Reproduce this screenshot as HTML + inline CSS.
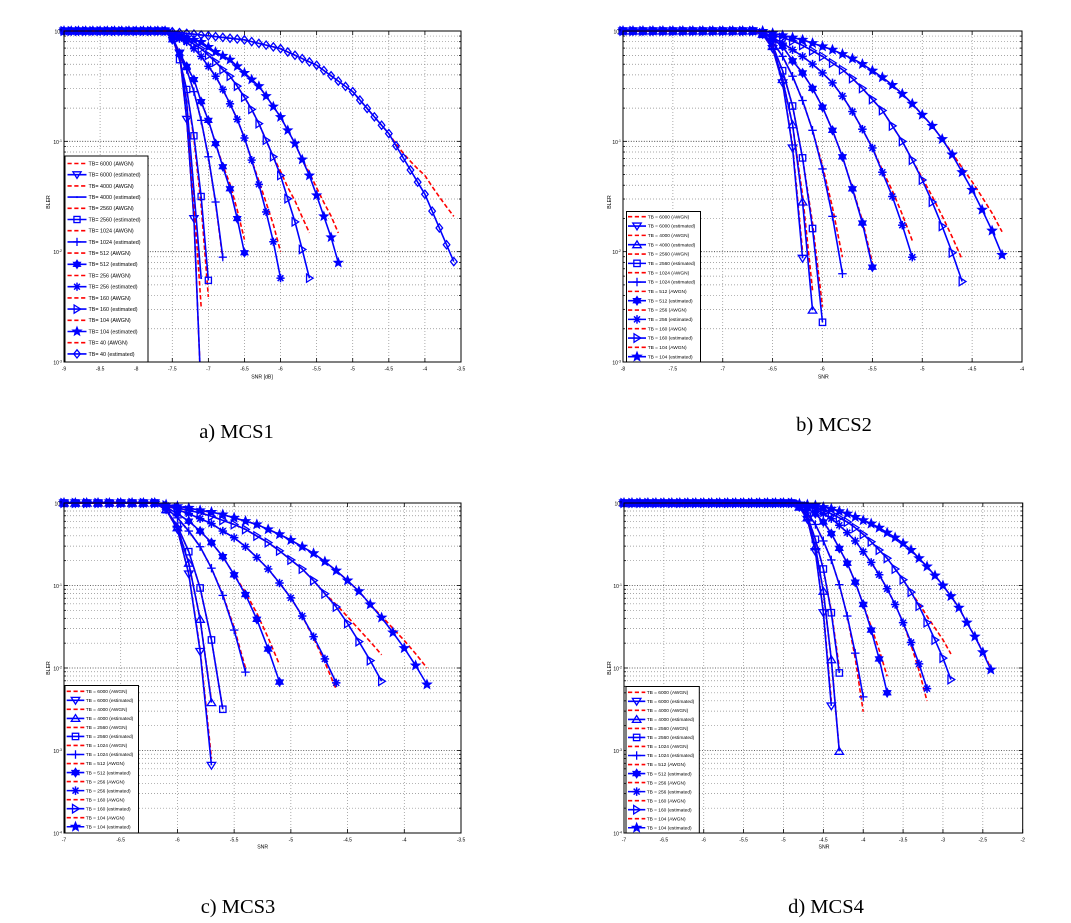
<!DOCTYPE html>
<html><head><meta charset="utf-8">
<style>html,body{margin:0;padding:0;background:#fff;}svg{display:block;}</style>
</head><body>
<svg id="s" width="1071" height="923" viewBox="0 0 1071 923" xmlns="http://www.w3.org/2000/svg" font-family="'Liberation Sans', Arial, sans-serif">
<rect width="1071" height="923" fill="#fff"/>
<defs>
<clipPath id="c1"><rect x="56" y="23" width="413" height="339"/></clipPath>
<clipPath id="c2"><rect x="615" y="23" width="415" height="339"/></clipPath>
<clipPath id="c3"><rect x="56" y="495" width="413" height="338"/></clipPath>
<clipPath id="c4"><rect x="616" y="495" width="415" height="338"/></clipPath>
</defs>
<g id="p1"></g><g id="p2"></g><g id="p3"></g><g id="p4"></g>
<g id="txt" fill="#000">
<g font-size="5" text-anchor="middle">
<text x="64" y="370.5">-9</text><text x="100.1" y="370.5">-8.5</text><text x="136.2" y="370.5">-8</text><text x="172.3" y="370.5">-7.5</text><text x="208.4" y="370.5">-7</text><text x="244.5" y="370.5">-6.5</text><text x="280.5" y="370.5">-6</text><text x="316.6" y="370.5">-5.5</text><text x="352.7" y="370.5">-5</text><text x="388.8" y="370.5">-4.5</text><text x="424.9" y="370.5">-4</text><text x="461" y="370.5">-3.5</text>
<text x="623" y="370.5">-8</text><text x="672.9" y="370.5">-7.5</text><text x="722.8" y="370.5">-7</text><text x="772.6" y="370.5">-6.5</text><text x="822.5" y="370.5">-6</text><text x="872.4" y="370.5">-5.5</text><text x="922.3" y="370.5">-5</text><text x="972.1" y="370.5">-4.5</text><text x="1022" y="370.5">-4</text>
<text x="64" y="841.5">-7</text><text x="120.7" y="841.5">-6.5</text><text x="177.4" y="841.5">-6</text><text x="234.1" y="841.5">-5.5</text><text x="290.9" y="841.5">-5</text><text x="347.6" y="841.5">-4.5</text><text x="404.3" y="841.5">-4</text><text x="461" y="841.5">-3.5</text>
<text x="624" y="841.5">-7</text><text x="663.9" y="841.5">-6.5</text><text x="703.7" y="841.5">-6</text><text x="743.6" y="841.5">-5.5</text><text x="783.5" y="841.5">-5</text><text x="823.4" y="841.5">-4.5</text><text x="863.2" y="841.5">-4</text><text x="903.1" y="841.5">-3.5</text><text x="943" y="841.5">-3</text><text x="982.8" y="841.5">-2.5</text><text x="1022.7" y="841.5">-2</text>
</g>
<g font-size="5" text-anchor="end">
<text x="62" y="33.5">10<tspan dy="-2" font-size="3.5">0</tspan></text>
<text x="62" y="143.8">10<tspan dy="-2" font-size="3.5">-1</tspan></text>
<text x="62" y="254.2">10<tspan dy="-2" font-size="3.5">-2</tspan></text>
<text x="62" y="364.5">10<tspan dy="-2" font-size="3.5">-3</tspan></text>
<text x="621" y="33.5">10<tspan dy="-2" font-size="3.5">0</tspan></text>
<text x="621" y="143.8">10<tspan dy="-2" font-size="3.5">-1</tspan></text>
<text x="621" y="254.2">10<tspan dy="-2" font-size="3.5">-2</tspan></text>
<text x="621" y="364.5">10<tspan dy="-2" font-size="3.5">-3</tspan></text>
<text x="62" y="505.5">10<tspan dy="-2" font-size="3.5">0</tspan></text>
<text x="62" y="588">10<tspan dy="-2" font-size="3.5">-1</tspan></text>
<text x="62" y="670.5">10<tspan dy="-2" font-size="3.5">-2</tspan></text>
<text x="62" y="753">10<tspan dy="-2" font-size="3.5">-3</tspan></text>
<text x="62" y="835.5">10<tspan dy="-2" font-size="3.5">-4</tspan></text>
<text x="622" y="505.5">10<tspan dy="-2" font-size="3.5">0</tspan></text>
<text x="622" y="588">10<tspan dy="-2" font-size="3.5">-1</tspan></text>
<text x="622" y="670.5">10<tspan dy="-2" font-size="3.5">-2</tspan></text>
<text x="622" y="753">10<tspan dy="-2" font-size="3.5">-3</tspan></text>
<text x="622" y="835.5">10<tspan dy="-2" font-size="3.5">-4</tspan></text>
</g>
<g font-size="5.2" text-anchor="middle">
<text x="262" y="378.5">SNR [dB]</text>
<text x="823.3" y="378.5">SNR</text>
<text x="262.7" y="848.5">SNR</text>
<text x="824" y="848.5">SNR</text>
<text transform="translate(50,202) rotate(-90)">BLER</text>
<text transform="translate(611,202) rotate(-90)">BLER</text>
<text transform="translate(50,668) rotate(-90)">BLER</text>
<text transform="translate(611,668) rotate(-90)">BLER</text>
</g>
<g font-size="5.4">
<text x="88.5" y="165.4">TB= 6000 (AWGN)</text>
<text x="88.5" y="176.6">TB= 6000 (estimated)</text>
<text x="88.5" y="187.8">TB= 4000 (AWGN)</text>
<text x="88.5" y="199.0">TB= 4000 (estimated)</text>
<text x="88.5" y="210.2">TB= 2560 (AWGN)</text>
<text x="88.5" y="221.4">TB= 2560 (estimated)</text>
<text x="88.5" y="232.6">TB= 1024 (AWGN)</text>
<text x="88.5" y="243.8">TB= 1024 (estimated)</text>
<text x="88.5" y="255.0">TB= 512 (AWGN)</text>
<text x="88.5" y="266.2">TB= 512 (estimated)</text>
<text x="88.5" y="277.4">TB= 256 (AWGN)</text>
<text x="88.5" y="288.6">TB= 256 (estimated)</text>
<text x="88.5" y="299.8">TB= 160 (AWGN)</text>
<text x="88.5" y="311.0">TB= 160 (estimated)</text>
<text x="88.5" y="322.2">TB= 104 (AWGN)</text>
<text x="88.5" y="333.4">TB= 104 (estimated)</text>
<text x="88.5" y="344.6">TB= 40 (AWGN)</text>
<text x="88.5" y="355.8">TB= 40 (estimated)</text>
</g>
<g font-size="4.8">
<text x="647.7" y="218.4">TB = 6000 (AWGN)</text>
<text x="647.7" y="227.7">TB = 6000 (estimated)</text>
<text x="647.7" y="237.1">TB = 4000 (AWGN)</text>
<text x="647.7" y="246.4">TB = 4000 (estimated)</text>
<text x="647.7" y="255.7">TB = 2560 (AWGN)</text>
<text x="647.7" y="265.1">TB = 2560 (estimated)</text>
<text x="647.7" y="274.4">TB = 1024 (AWGN)</text>
<text x="647.7" y="283.7">TB = 1024 (estimated)</text>
<text x="647.7" y="293.1">TB = 512 (AWGN)</text>
<text x="647.7" y="302.4">TB = 512 (estimated)</text>
<text x="647.7" y="311.7">TB = 256 (AWGN)</text>
<text x="647.7" y="321.1">TB = 256 (estimated)</text>
<text x="647.7" y="330.4">TB = 160 (AWGN)</text>
<text x="647.7" y="339.7">TB = 160 (estimated)</text>
<text x="647.7" y="349.1">TB = 104 (AWGN)</text>
<text x="647.7" y="358.4">TB = 104 (estimated)</text>
</g>
<g font-size="4.8">
<text x="85.7" y="693.0">TB = 6000 (AWGN)</text>
<text x="85.7" y="702.0">TB = 6000 (estimated)</text>
<text x="85.7" y="711.1">TB = 4000 (AWGN)</text>
<text x="85.7" y="720.1">TB = 4000 (estimated)</text>
<text x="85.7" y="729.1">TB = 2560 (AWGN)</text>
<text x="85.7" y="738.2">TB = 2560 (estimated)</text>
<text x="85.7" y="747.2">TB = 1024 (AWGN)</text>
<text x="85.7" y="756.2">TB = 1024 (estimated)</text>
<text x="85.7" y="765.2">TB = 512 (AWGN)</text>
<text x="85.7" y="774.3">TB = 512 (estimated)</text>
<text x="85.7" y="783.3">TB = 256 (AWGN)</text>
<text x="85.7" y="792.3">TB = 256 (estimated)</text>
<text x="85.7" y="801.4">TB = 160 (AWGN)</text>
<text x="85.7" y="810.4">TB = 160 (estimated)</text>
<text x="85.7" y="819.4">TB = 104 (AWGN)</text>
<text x="85.7" y="828.5">TB = 104 (estimated)</text>
</g>
<g font-size="4.8">
<text x="646.7" y="694.0">TB = 6000 (AWGN)</text>
<text x="646.7" y="703.0">TB = 6000 (estimated)</text>
<text x="646.7" y="712.1">TB = 4000 (AWGN)</text>
<text x="646.7" y="721.1">TB = 4000 (estimated)</text>
<text x="646.7" y="730.1">TB = 2560 (AWGN)</text>
<text x="646.7" y="739.2">TB = 2560 (estimated)</text>
<text x="646.7" y="748.2">TB = 1024 (AWGN)</text>
<text x="646.7" y="757.2">TB = 1024 (estimated)</text>
<text x="646.7" y="766.2">TB = 512 (AWGN)</text>
<text x="646.7" y="775.3">TB = 512 (estimated)</text>
<text x="646.7" y="784.3">TB = 256 (AWGN)</text>
<text x="646.7" y="793.3">TB = 256 (estimated)</text>
<text x="646.7" y="802.4">TB = 160 (AWGN)</text>
<text x="646.7" y="811.4">TB = 160 (estimated)</text>
<text x="646.7" y="820.4">TB = 104 (AWGN)</text>
<text x="646.7" y="829.5">TB = 104 (estimated)</text>
</g>
<g font-family="'Liberation Serif', 'Times New Roman', serif" font-size="20.5" text-anchor="middle">
<text x="236.5" y="438">a) MCS1</text>
<text x="834" y="431">b) MCS2</text>
<text x="238" y="913">c) MCS3</text>
<text x="826" y="913">d) MCS4</text>
</g>
</g>
</svg>
<script>
const NS='http://www.w3.org/2000/svg';
function el(t,a,p){const e=document.createElementNS(NS,t);for(const k in a)e.setAttribute(k,a[k]);if(p)p.appendChild(e);return e;}
function ln(p,x1,y1,x2,y2,a){a=Object.assign({},a||{});a.x1=x1;a.y1=y1;a.x2=x2;a.y2=y2;return el('line',a,p);}
function interp(A,x){
  if(x<=A[0]+1e-9) return 0;
  for(let i=0;i<A.length-2;i+=2){
    if(x<=A[i+2]+1e-9){const t=(x-A[i])/(A[i+2]-A[i]);return A[i+1]+t*(A[i+3]-A[i+1]);}
  }
  return A[A.length-1];
}
function starPts(cx,cy,ro,ri,n,rot){const p=[];for(let k=0;k<2*n;k++){const r=k%2?ri:ro;const a=rot+k*Math.PI/n;p.push((cx+r*Math.sin(a)).toFixed(2)+','+(cy-r*Math.cos(a)).toFixed(2));}return p.join(' ');}
function mk(g,t,cx,cy,s){
  const h=s/2,c='#00f';
  const A={stroke:c,'stroke-width':1.3,fill:'none'};
  const F={stroke:c,'stroke-width':0.9,fill:c};
  if(t==='v') el('polygon',Object.assign({points:`${cx-h},${cy-h*0.7} ${cx+h},${cy-h*0.7} ${cx},${cy+h*0.9}`},A),g);
  else if(t==='^') el('polygon',Object.assign({points:`${cx-h},${cy+h*0.7} ${cx+h},${cy+h*0.7} ${cx},${cy-h*0.9}`},A),g);
  else if(t==='>') el('polygon',Object.assign({points:`${cx-h*0.7},${cy-h} ${cx-h*0.7},${cy+h} ${cx+h*0.9},${cy}`},A),g);
  else if(t==='s') el('rect',Object.assign({x:cx-h*0.75,y:cy-h*0.75,width:h*1.5,height:h*1.5},A),g);
  else if(t==='d') el('polygon',Object.assign({points:`${cx},${cy-h} ${cx+h*0.8},${cy} ${cx},${cy+h} ${cx-h*0.8},${cy}`},A),g);
  else if(t==='+'){ln(g,cx-h,cy,cx+h,cy,A);ln(g,cx,cy-h,cx,cy+h,A);}
  else if(t==='.'){el('circle',{cx:cx,cy:cy,r:1,fill:c},g);}
  else if(t==='p') el('polygon',Object.assign({points:starPts(cx,cy,h*1.15,h*0.5,5,0)},F),g);
  else if(t==='h') el('polygon',Object.assign({points:starPts(cx,cy,h*1.05,h*0.62,6,0)},F),g);
  else if(t==='*'){const a={stroke:c,'stroke-width':1.5};
    for(let k=0;k<4;k++){const an=k*Math.PI/4;ln(g,cx-h*Math.cos(an),cy-h*Math.sin(an),cx+h*Math.cos(an),cy+h*Math.sin(an),a);}}
}
const plots=[
{id:'p1',clip:'c1',L:64,R:461,T:31,B:362,x0:-9,x1:-3.5,dec:3,ms:8.2,
 leg:{bx:65,by:156,bw:83,bh:206,y0:163.5,dy:11.2,lx1:67.5,lx2:86.5},
 S:[
 ['v',-7.1,[-7.6,0,-7.5,-0.05,-7.4,-0.2,-7.3,-0.8,-7.2,-1.7,-7.1,-3.3],-3.3,0.2],
 ['.',-7.1,[-7.6,0,-7.5,-0.05,-7.4,-0.22,-7.3,-0.65,-7.2,-1.45,-7.1,-2.24],-2.5,0.2],
 ['s',-7.0,[-7.6,0,-7.5,-0.05,-7.4,-0.26,-7.3,-0.53,-7.2,-0.95,-7.1,-1.5,-7.0,-2.26],-2.41,0.3],
 ['+',-6.8,[-7.6,0,-7.5,-0.06,-7.4,-0.22,-7.3,-0.35,-7.2,-0.55,-7.1,-0.81,-7.0,-1.14,-6.9,-1.55,-6.8,-2.05],-2.07,0.3],
 ['h',-6.5,[-7.6,0,-7.5,-0.08,-7.4,-0.2,-7.3,-0.32,-7.2,-0.44,-7.1,-0.64,-7.0,-0.81,-6.9,-1.02,-6.8,-1.23,-6.7,-1.43,-6.6,-1.7,-6.5,-2.01],-1.89,0.4],
 ['*',-6.0,[-7.6,0,-7.5,-0.04,-7.4,-0.07,-7.3,-0.1,-7.2,-0.16,-7.1,-0.23,-7.0,-0.32,-6.9,-0.41,-6.8,-0.53,-6.7,-0.66,-6.6,-0.8,-6.5,-0.97,-6.4,-1.17,-6.3,-1.39,-6.2,-1.64,-6.1,-1.91,-6.0,-2.24],-2.0,0.4],
 ['>',-5.6,[-7.6,0,-7.5,-0.03,-7.3,-0.08,-7.1,-0.16,-6.9,-0.28,-6.8,-0.35,-6.7,-0.41,-6.6,-0.5,-6.5,-0.6,-6.4,-0.71,-6.3,-0.84,-6.2,-0.99,-6.1,-1.14,-6.0,-1.31,-5.9,-1.52,-5.8,-1.73,-5.7,-1.98,-5.6,-2.24],-1.83,0.5],
 ['p',-5.2,[-7.6,0,-7.5,-0.03,-7.3,-0.06,-7.1,-0.1,-6.9,-0.19,-6.7,-0.26,-6.5,-0.38,-6.3,-0.5,-6.2,-0.59,-6.0,-0.78,-5.8,-1.02,-5.6,-1.31,-5.5,-1.49,-5.4,-1.68,-5.3,-1.87,-5.2,-2.1],-1.83,0.5],
 ['d',-3.6,[-7.6,0,-7.1,-0.036,-6.5,-0.08,-6.0,-0.16,-5.5,-0.31,-5.0,-0.55,-4.5,-0.93,-4.0,-1.48,-3.6,-2.09],-1.68,0.9]
 ]},
{id:'p2',clip:'c2',L:623,R:1022,T:31,B:362,x0:-8,x1:-4,dec:3,ms:8.5,
 leg:{bx:626.5,by:211.5,bw:74,bh:150.5,y0:216.7,dy:9.333,lx1:628,lx2:646},
 S:[
 ['v',-6.2,[-6.7,0,-6.6,-0.03,-6.5,-0.16,-6.4,-0.47,-6.3,-1.06,-6.2,-2.06],-2.0,0.2],
 ['^',-6.1,[-6.7,0,-6.6,-0.03,-6.5,-0.14,-6.4,-0.44,-6.3,-0.85,-6.2,-1.55,-6.1,-2.53],-2.35,0.2],
 ['s',-6.0,[-6.7,0,-6.6,-0.03,-6.5,-0.13,-6.4,-0.36,-6.3,-0.68,-6.2,-1.15,-6.1,-1.79,-6.0,-2.64],-2.5,0.2],
 ['+',-5.8,[-6.7,0,-6.6,-0.03,-6.5,-0.1,-6.4,-0.23,-6.3,-0.41,-6.2,-0.63,-6.1,-0.9,-6.0,-1.25,-5.9,-1.68,-5.8,-2.2],-2.05,0.3],
 ['h',-5.5,[-6.7,0,-6.6,-0.02,-6.5,-0.07,-6.4,-0.14,-6.3,-0.27,-6.2,-0.38,-6.1,-0.52,-6.0,-0.69,-5.9,-0.9,-5.8,-1.14,-5.7,-1.43,-5.6,-1.74,-5.5,-2.14],-2.1,0.3],
 ['*',-5.1,[-6.7,0,-6.6,-0.02,-6.5,-0.06,-6.4,-0.11,-6.3,-0.17,-6.2,-0.23,-6.1,-0.3,-6.0,-0.38,-5.9,-0.47,-5.8,-0.59,-5.7,-0.73,-5.6,-0.89,-5.5,-1.06,-5.4,-1.28,-5.3,-1.5,-5.2,-1.76,-5.1,-2.05],-1.9,0.4],
 ['>',-4.6,[-6.7,0,-6.6,-0.02,-6.5,-0.04,-6.4,-0.06,-6.3,-0.09,-6.2,-0.13,-6.1,-0.18,-6.0,-0.23,-5.9,-0.29,-5.8,-0.35,-5.7,-0.43,-5.6,-0.52,-5.5,-0.62,-5.4,-0.72,-5.3,-0.86,-5.2,-1.0,-5.1,-1.17,-5.0,-1.35,-4.9,-1.55,-4.8,-1.77,-4.7,-2.01,-4.6,-2.27],-2.07,0.5],
 ['p',-4.2,[-6.6,0,-6.4,-0.04,-6.3,-0.06,-6.2,-0.08,-6.1,-0.11,-6.0,-0.14,-5.9,-0.17,-5.8,-0.21,-5.7,-0.25,-5.6,-0.3,-5.5,-0.36,-5.4,-0.42,-5.3,-0.49,-5.2,-0.57,-5.1,-0.66,-5.0,-0.76,-4.9,-0.86,-4.8,-0.98,-4.7,-1.12,-4.6,-1.28,-4.5,-1.44,-4.4,-1.62,-4.3,-1.81,-4.2,-2.03],-1.82,0.6]
 ]},
{id:'p3',clip:'c3',L:64,R:461,T:503,B:833,x0:-7,x1:-3.5,dec:4,ms:8.5,
 leg:{bx:65,by:685.5,bw:73.5,bh:147.5,y0:691.3,dy:9.03,lx1:66.7,lx2:84.3},
 S:[
 ['v',-5.7,[-6.2,0,-6.1,-0.08,-6.0,-0.32,-5.9,-0.86,-5.8,-1.8,-5.7,-3.18],-3.1,0.2],
 ['^',-5.7,[-6.2,0,-6.1,-0.08,-6.0,-0.3,-5.9,-0.73,-5.8,-1.41,-5.7,-2.42],-2.4,0.2],
 ['s',-5.6,[-6.2,0,-6.1,-0.08,-6.0,-0.28,-5.9,-0.59,-5.8,-1.03,-5.7,-1.66,-5.6,-2.5],-2.5,0.2],
 ['+',-5.4,[-6.2,0,-6.1,-0.06,-6.0,-0.18,-5.9,-0.34,-5.8,-0.53,-5.7,-0.79,-5.6,-1.12,-5.5,-1.54,-5.4,-2.05],-2.0,0.3],
 ['h',-5.1,[-6.2,0,-6.1,-0.05,-6.0,-0.13,-5.9,-0.22,-5.8,-0.34,-5.7,-0.48,-5.6,-0.65,-5.5,-0.87,-5.4,-1.11,-5.3,-1.41,-5.2,-1.77,-5.1,-2.17],-1.96,0.4],
 ['*',-4.6,[-6.2,0,-6.1,-0.03,-6.0,-0.08,-5.9,-0.13,-5.8,-0.19,-5.7,-0.25,-5.6,-0.34,-5.5,-0.42,-5.4,-0.53,-5.3,-0.66,-5.2,-0.8,-5.1,-0.97,-5.0,-1.15,-4.9,-1.37,-4.8,-1.62,-4.7,-1.89,-4.6,-2.18],-2.26,0.3],
 ['>',-4.2,[-6.2,0,-6.1,-0.03,-6.0,-0.06,-5.9,-0.09,-5.8,-0.12,-5.7,-0.16,-5.6,-0.21,-5.5,-0.26,-5.4,-0.32,-5.3,-0.4,-5.2,-0.48,-5.1,-0.58,-5.0,-0.69,-4.9,-0.8,-4.8,-0.94,-4.7,-1.1,-4.6,-1.26,-4.5,-1.46,-4.4,-1.68,-4.3,-1.91,-4.2,-2.16],-1.84,0.5],
 ['p',-3.8,[-6.2,0,-6.0,-0.04,-5.9,-0.06,-5.8,-0.09,-5.7,-0.11,-5.6,-0.14,-5.5,-0.18,-5.4,-0.22,-5.3,-0.26,-5.2,-0.32,-5.1,-0.38,-5.0,-0.45,-4.9,-0.53,-4.8,-0.61,-4.7,-0.71,-4.6,-0.82,-4.5,-0.94,-4.4,-1.07,-4.3,-1.23,-4.2,-1.39,-4.1,-1.57,-4.0,-1.76,-3.9,-1.97,-3.8,-2.2],-2.0,0.5]
 ]},
{id:'p4',clip:'c4',L:624,R:1022.7,T:503,B:833,x0:-7,x1:-2,dec:4,ms:8.5,
 leg:{bx:626,by:686.5,bw:73.3,bh:146.5,y0:692.3,dy:9.03,lx1:628,lx2:645.3},
 S:[
 ['v',-4.4,[-4.9,0,-4.8,-0.05,-4.7,-0.2,-4.6,-0.59,-4.5,-1.33,-4.4,-2.46],-2.4,0.2],
 ['^',-4.3,[-4.9,0,-4.8,-0.05,-4.7,-0.18,-4.6,-0.53,-4.5,-1.07,-4.4,-1.9,-4.3,-3.01],-3.0,0.2],
 ['s',-4.3,[-4.9,0,-4.8,-0.04,-4.7,-0.16,-4.6,-0.44,-4.5,-0.8,-4.4,-1.33,-4.3,-2.06],-2.0,0.2],
 ['+',-4.0,[-4.9,0,-4.8,-0.04,-4.7,-0.12,-4.6,-0.26,-4.5,-0.46,-4.4,-0.69,-4.3,-0.99,-4.2,-1.37,-4.1,-1.82,-4.0,-2.35],-2.53,0.2],
 ['h',-3.7,[-4.9,0,-4.8,-0.03,-4.7,-0.07,-4.6,-0.13,-4.5,-0.23,-4.4,-0.37,-4.3,-0.55,-4.2,-0.73,-4.1,-0.96,-4.0,-1.23,-3.9,-1.54,-3.8,-1.89,-3.7,-2.3],-2.1,0.3],
 ['*',-3.2,[-4.9,0,-4.8,-0.02,-4.7,-0.04,-4.6,-0.07,-4.5,-0.13,-4.4,-0.19,-4.3,-0.27,-4.2,-0.36,-4.1,-0.46,-4.0,-0.59,-3.9,-0.72,-3.8,-0.87,-3.7,-1.04,-3.6,-1.23,-3.5,-1.45,-3.4,-1.69,-3.3,-1.95,-3.2,-2.25],-2.4,0.3],
 ['>',-2.9,[-4.9,0,-4.8,-0.02,-4.7,-0.04,-4.6,-0.06,-4.5,-0.09,-4.4,-0.13,-4.3,-0.18,-4.2,-0.23,-4.1,-0.3,-4.0,-0.38,-3.9,-0.47,-3.8,-0.57,-3.7,-0.67,-3.6,-0.8,-3.5,-0.93,-3.4,-1.08,-3.3,-1.25,-3.2,-1.45,-3.1,-1.66,-3.0,-1.88,-2.9,-2.14],-1.83,0.5],
 ['p',-2.4,[-4.9,0,-4.7,-0.02,-4.6,-0.03,-4.5,-0.05,-4.4,-0.07,-4.3,-0.1,-4.2,-0.13,-4.1,-0.17,-4.0,-0.21,-3.9,-0.25,-3.8,-0.3,-3.7,-0.36,-3.6,-0.42,-3.5,-0.49,-3.4,-0.57,-3.3,-0.67,-3.2,-0.77,-3.1,-0.88,-3.0,-1.0,-2.9,-1.13,-2.8,-1.27,-2.7,-1.45,-2.6,-1.62,-2.5,-1.81,-2.4,-2.02],-2.0,0.3]
 ]}
];
function draw(P){
  const g=document.getElementById(P.id);
  const W=P.R-P.L,H=P.B-P.T;
  const X=x=>P.L+(x-P.x0)/(P.x1-P.x0)*W;
  const Y=l=>P.T-l/P.dec*H;
  const gm=el('g',{stroke:'#8a8a8a','stroke-width':0.7,'stroke-dasharray':'1 2',fill:'none'},g);
  const gM=el('g',{stroke:'#333','stroke-width':0.8,'stroke-dasharray':'1 1.6',fill:'none'},g);
  const nx=Math.round((P.x1-P.x0)/0.5);
  for(let i=1;i<nx;i++){const x=X(P.x0+i*0.5);ln(gm,x,P.T,x,P.B);}
  for(let d=1;d<=P.dec;d++){for(let m=1;m<=9;m++){
    const l=-d+Math.log10(m);
    if(d===P.dec&&m===1)continue;
    ln(m===1?gM:gm,P.L,Y(l),P.R,Y(l));
  }}
  const tk=el('g',{stroke:'#000','stroke-width':0.8},g);
  for(let i=0;i<=nx;i++){const x=X(P.x0+i*0.5);ln(tk,x,P.B,x,P.B-4);ln(tk,x,P.T,x,P.T+4);}
  for(let d=0;d<=P.dec;d++){const y=Y(-d);ln(tk,P.L,y,P.L+4,y);ln(tk,P.R,y,P.R-4,y);}
  for(let d=1;d<=P.dec;d++){for(let m=2;m<=9;m++){const y=Y(-d+Math.log10(m));ln(tk,P.L,y,P.L+2,y);ln(tk,P.R,y,P.R-2,y);}}
  const cg=el('g',{'clip-path':'url(#'+P.clip+')'},g);
  for(const s of P.S){
    const [t,xe,A,re,w]=s;
    const n=Math.round((xe-P.x0)*10);
    const be=interp(A,xe);
    let dR='',dB='';const pts=[];
    for(let i=0;i<=n;i++){
      const x=P.x0+i*0.1;
      const b=interp(A,x);
      const f=Math.max(0,1-(xe-x)/w);
      const r=b+(re-be)*Math.pow(f,1.5);
      const px=X(x).toFixed(2);
      dR+=(i?'L':'M')+px+' '+Y(r).toFixed(2);
      dB+=(i?'L':'M')+px+' '+Y(b).toFixed(2);
      pts.push([X(x),Y(b)]);
    }
    el('path',{d:dR,stroke:'#f00','stroke-width':1.6,fill:'none','stroke-dasharray':'4.5 2.5'},cg);
    el('path',{d:dB,stroke:'#00f','stroke-width':1.6,fill:'none'},cg);
    for(const p of pts) mk(cg,t,p[0],p[1],P.ms);
  }
  el('rect',{x:P.L,y:P.T,width:W,height:H,fill:'none',stroke:'#000','stroke-width':1},g);
  const L=P.leg;
  el('rect',{x:L.bx,y:L.by,width:L.bw,height:L.bh,fill:'#fff',stroke:'#000','stroke-width':1},g);
  let k=0;
  for(const s of P.S){
    const yr=L.y0+(2*k)*L.dy, yb=L.y0+(2*k+1)*L.dy;
    ln(g,L.lx1,yr,L.lx2,yr,{stroke:'#f00','stroke-width':1.6,'stroke-dasharray':'4.2 2.6'});
    ln(g,L.lx1,yb,L.lx2,yb,{stroke:'#00f','stroke-width':1.6});
    mk(g,s[0],(L.lx1+L.lx2)/2,yb,P.ms);
    k++;
  }
}
plots.forEach(draw);
</script>
</body></html>
